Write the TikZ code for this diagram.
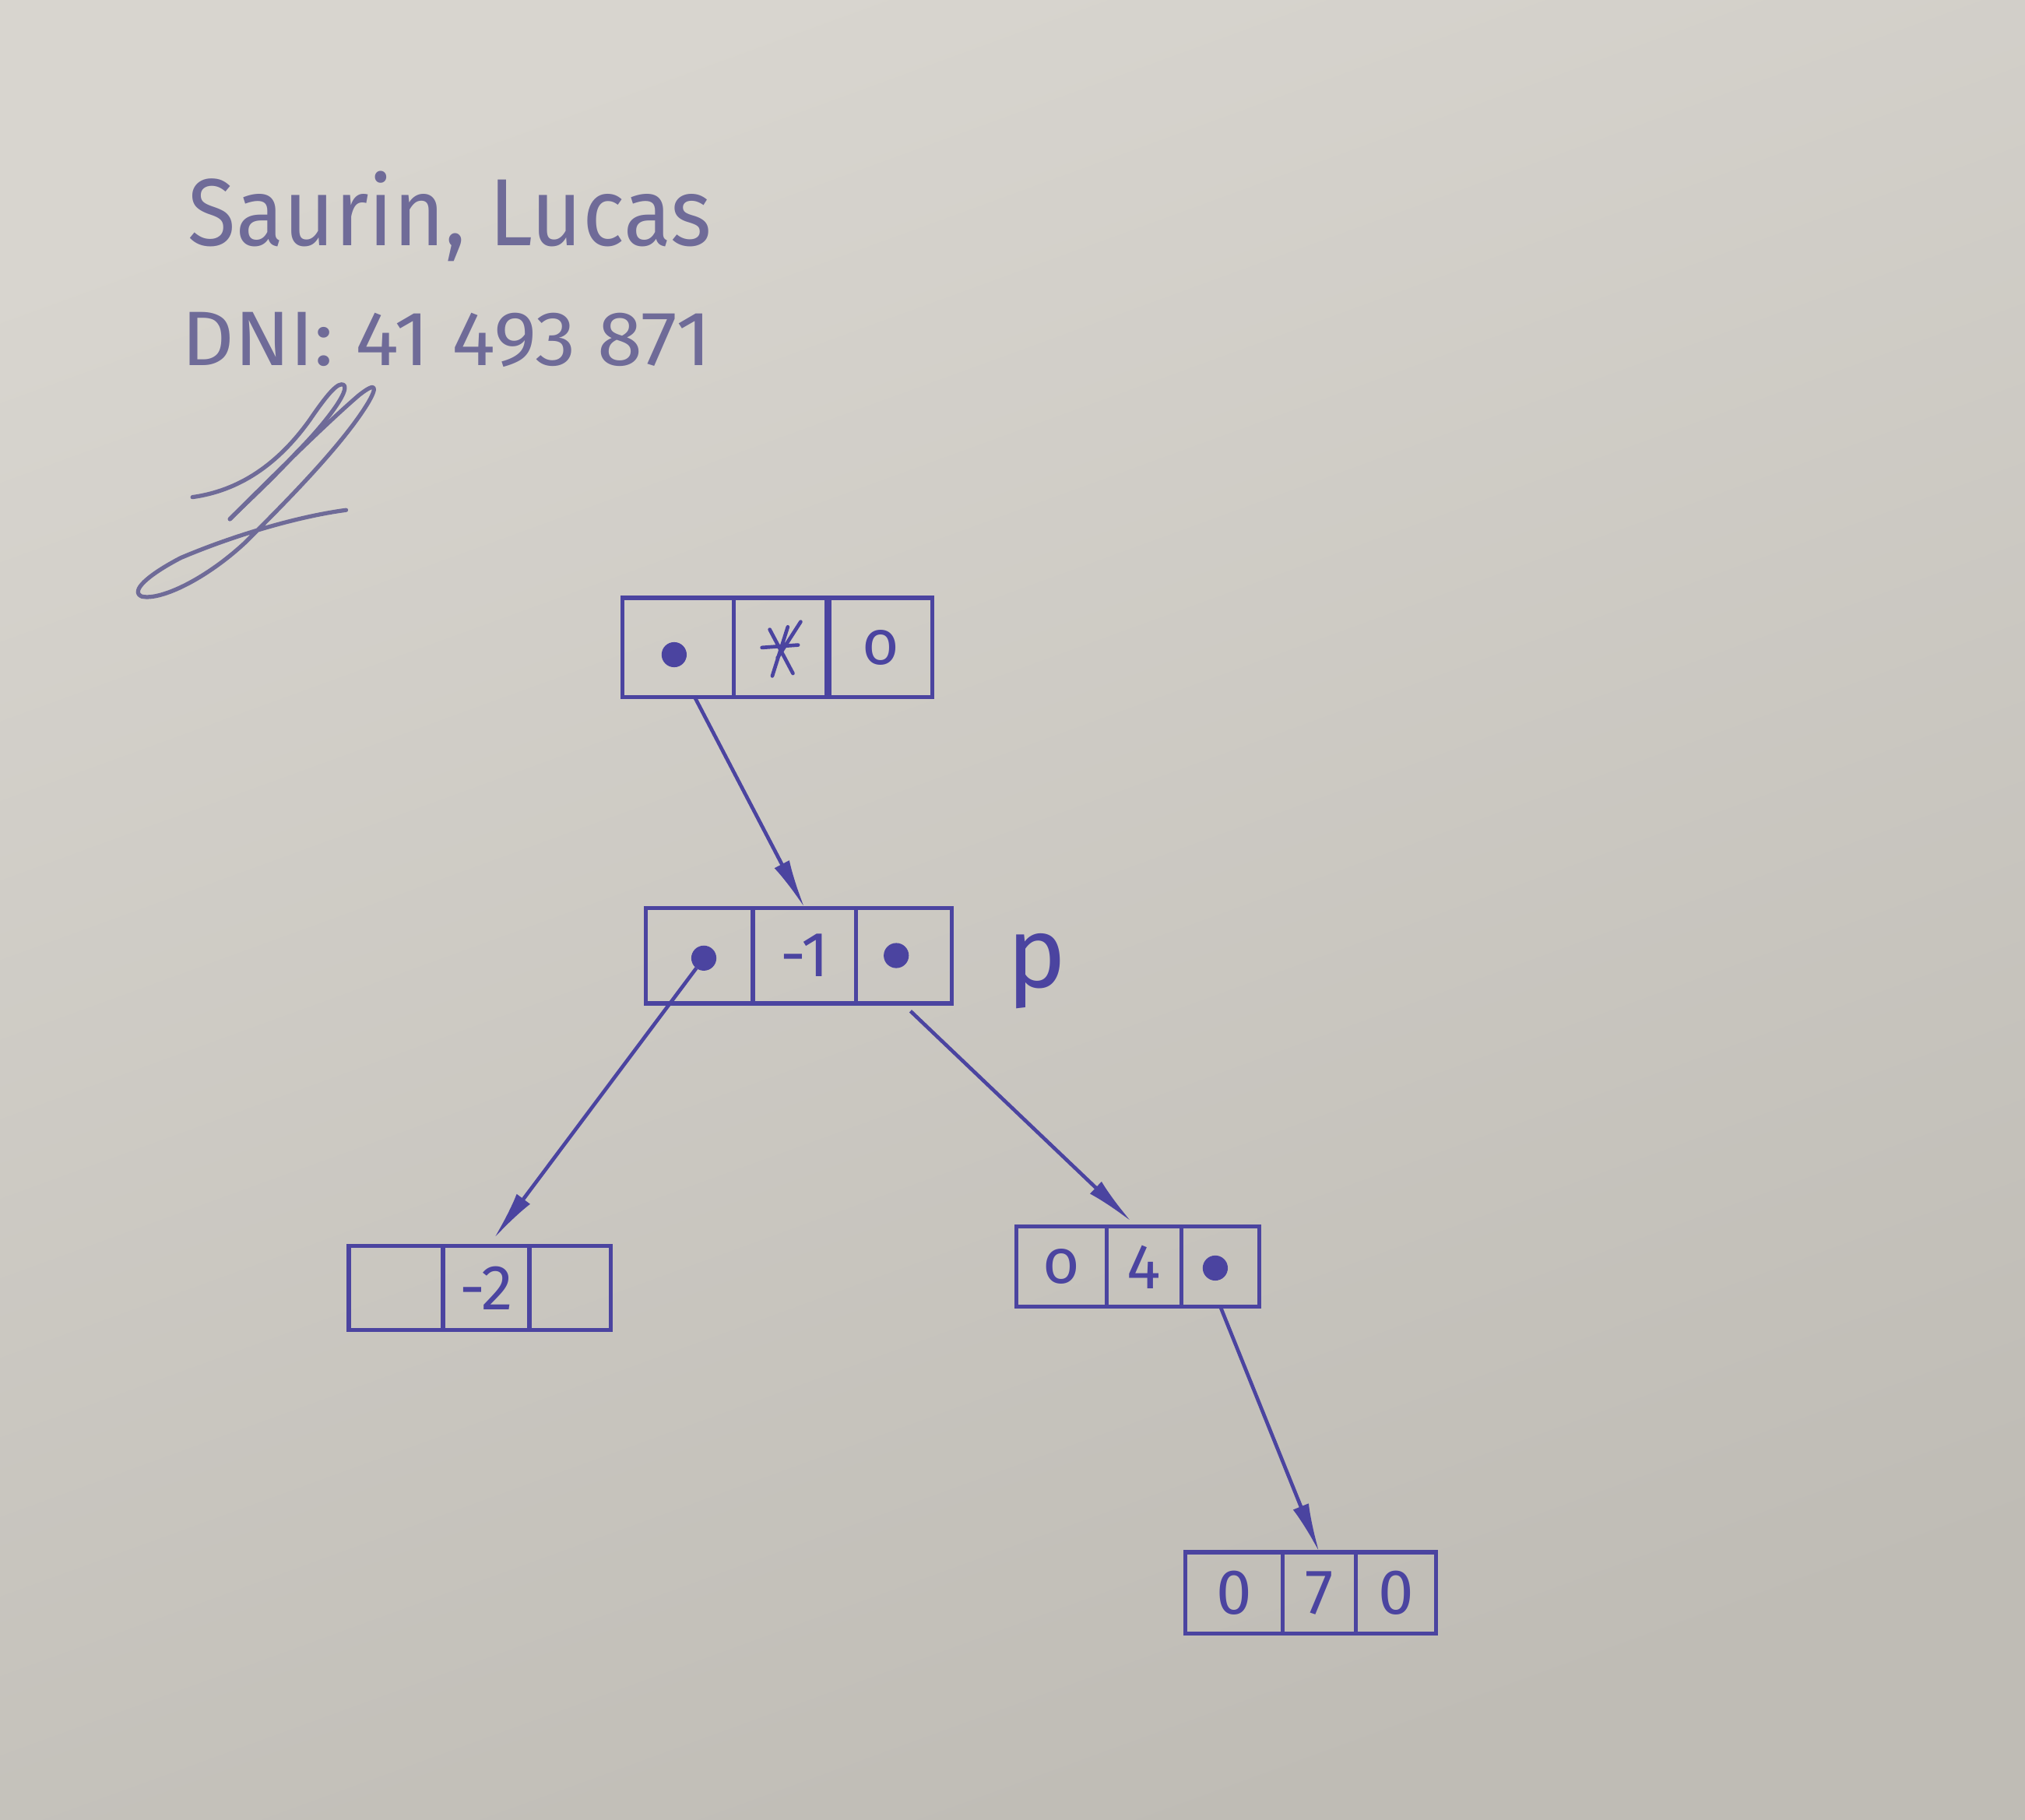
\documentclass[tikz,border=0pt]{standalone}
\usepackage{fontspec}
\setmainfont{Fira Sans}
\usetikzlibrary{arrows.meta,calc}
\definecolor{ink}{HTML}{4B44A0}
\definecolor{faded}{HTML}{6F6B98}
\definecolor{paperA}{HTML}{D8D5CF}
\definecolor{paperB}{HTML}{BFBCB5}
\tikzset{
  cell/.style 2 args={draw=ink, line width=0.9pt, minimum width={#1*0.01cm}, minimum height={#2*0.01cm}, inner sep=0pt, outer sep=0pt, text=ink, font=\fontsize{14}{14}\selectfont},
  dotn/.style={circle, fill=ink, draw=ink, minimum size=0.18cm, inner sep=0pt},
  arr/.style={draw=ink, line width=0.8pt, -{Latex[length=0.38cm,width=0.13cm]}},
  hand/.style={text=faded, inner sep=0pt, anchor=base west},
  sig/.style={draw=faded, line width=0.9pt, line cap=round, line join=round}
}
\begin{document}
\begin{tikzpicture}[x=0.01cm,y=-0.01cm]
\useasboundingbox (0,0) rectangle (1568,1409);
\shade[top color=paperA, bottom color=paperB, shading angle=20] (0,0) rectangle (1568,1409);

% header
\node[hand, font=\fontsize{21}{21}\selectfont] (name) at (145,190) {\scalebox{0.92}[1]{Saurin, Lucas}};
\node[hand, font=\fontsize{17}{17}\selectfont] (dni) at (140,283) {\scalebox{1.06}[1]{DNI: 41 493 871}};

% signature
\draw[sig] (149,385) .. controls (185,380) and (215,360) .. (240,325)
  .. controls (255,303) and (262,296) .. (266,298)
  .. controls (272,302) and (250,330) .. (230,350)
  .. controls (210,372) and (190,390) .. (178,402);
\draw[sig] (178,402) .. controls (200,380) and (250,330) .. (278,306)
  .. controls (292,295) and (292,300) .. (285,312)
  .. controls (265,345) and (220,390) .. (190,420)
  .. controls (160,448) and (125,465) .. (110,462)
  .. controls (100,458) and (115,445) .. (140,432)
  .. controls (180,415) and (230,400) .. (268,395);

% box A
\node[cell={86}{77}] (A1) at (525,501.5) {};
\node[cell={72}{77}] (A2) at (604,501.5) {};
\node[cell={80}{77}] (A3) at (682,501.5) {o};
\node[dotn] (ad1) at (522,507) {};
\draw[ink, line width=0.8pt, line cap=round]
  ($(A2)+(-14,0)$) -- ($(A2)+(14,-2)$)
  ($(A2)+(-6,22)$) -- ($(A2)+(6,-16)$)
  ($(A2)+(-8,-14)$) -- ($(A2)+(10,20)$)
  ($(A2)+(-2,8)$) -- ($(A2)+(16,-20)$);

% box B
\node[cell={83}{74}] (B1) at (541.5,740) {};
\node[cell={80}{74}] (B2) at (623,740) {-1};
\node[cell={74}{74}] (B3) at (700,740) {};
\node[dotn] (bd1) at (545,742) {};
\node[dotn] (bd3) at (694,740) {};
\node[text=ink, font=\fontsize{22}{22}\selectfont, inner sep=0pt] (p) at (803,752) {p};

% box C
\node[cell={73}{65}] (C1) at (306.5,997.5) {};
\node[cell={67}{65}] (C2) at (376.5,997.5) {-2};
\node[cell={63}{65}] (C3) at (441.5,997.5) {};

% box D
\node[cell={70}{62}] (D1) at (822,981) {o};
\node[cell={58}{62}] (D2) at (886,981) {4};
\node[cell={60}{62}] (D3) at (945,981) {};
\node[dotn] (dd3) at (941,982) {};

% box E
\node[cell={75}{63}] (E1) at (955.5,1233.5) {0};
\node[cell={57}{63}] (E2) at (1021.5,1233.5) {7};
\node[cell={62}{63}] (E3) at (1081,1233.5) {0};

% connectors
\draw[arr] ($(A1.south)+(13,0)$) -- (B2.north);
\draw[arr] (bd1) -- ($(C2.north)+(6,-6)$);
\draw[arr] ($(B3.south)+(5,6)$) -- ($(D2.north)+(-10,-4)$);
\draw[arr] (D3.south) -- (E2.north);
\end{tikzpicture}
\end{document}
